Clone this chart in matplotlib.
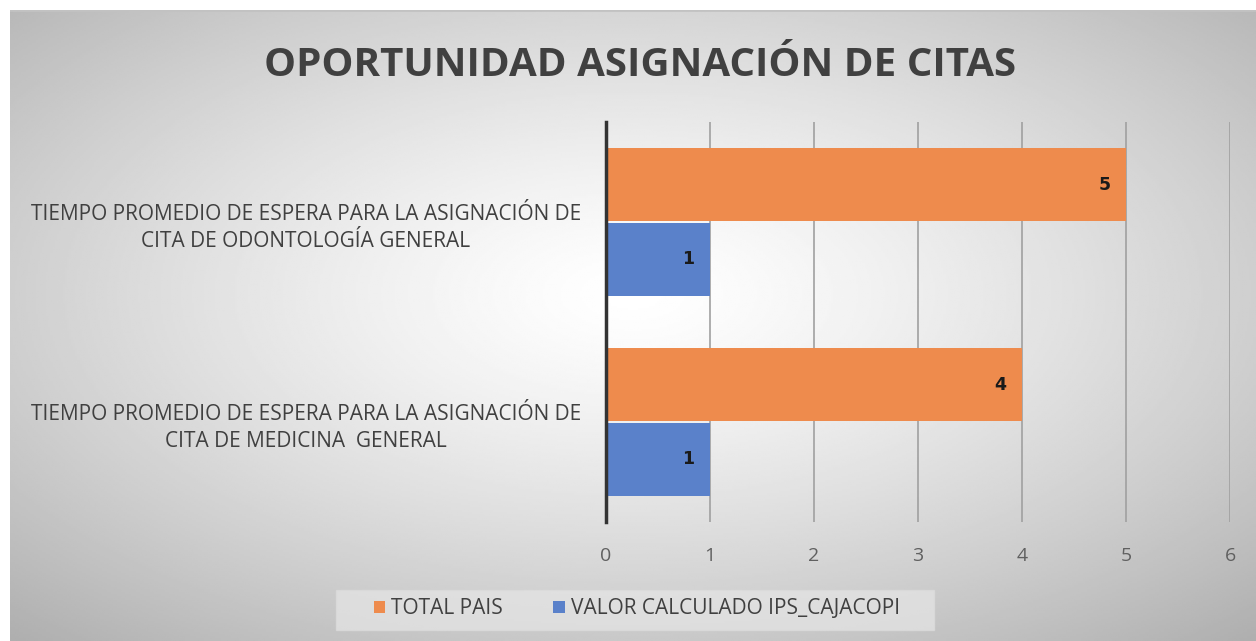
import numpy as np
import matplotlib.pyplot as plt
from matplotlib.patches import Rectangle

plt.switch_backend('agg')

plt.rcParams['font.family'] = ['Open Sans', 'DejaVu Sans']

# Datos
categorias = ['TIEMPO PROMEDIO DE ESPERA PARA LA ASIGNACIÓN DE\nCITA DE MEDICINA  GENERAL',
              'TIEMPO PROMEDIO DE ESPERA PARA LA ASIGNACIÓN DE\nCITA DE ODONTOLOGÍA GENERAL']
total_pais = [4, 5]
valor_ips = [1, 1]
series = ['TOTAL PAIS', 'VALOR CALCULADO IPS_CAJACOPI']
ticks_x = [0, 1, 2, 3, 4, 5, 6]

fig = plt.figure(figsize=(12.56, 6.41), dpi=100)

# fondo con degradado radial
fondo = fig.add_axes([10 / 1256, 0, 1 - 10 / 1256, 631 / 641])
yy, xx = np.mgrid[0:1:300j, 0:1:600j]
r = np.sqrt(((xx - 0.5) / 0.75) ** 2 + ((yy - 0.45) / 0.75) ** 2)
grad = np.clip(1 - 0.32 * r ** 1.3, 0, 1)
fondo.imshow(grad, cmap='gray', vmin=0, vmax=1, aspect='auto', extent=[0, 1, 0, 1], origin='upper')
fondo.axhline(1, color='#c2c2c2', lw=2)
fondo.set_axis_off()

ax = fig.add_axes([606 / 1256, (641 - 522) / 641, 624 / 1256, 400 / 641])
ax.patch.set_alpha(0)
y = np.arange(len(categorias))
h = 0.365
b1 = ax.barh(y + h / 2 + 0.005, total_pais, height=h, color='#EE8B4D', zorder=3)
b2 = ax.barh(y - h / 2 - 0.005, valor_ips, height=h, color='#5A81CA', zorder=3)
for barras, vals in ((b1, total_pais), (b2, valor_ips)):
    for rect, v in zip(barras, vals):
        ax.text(v - 0.15, rect.get_y() + rect.get_height() / 2, str(v),
                ha='right', va='center', fontsize=12.5, fontweight='bold', color='#1a1a1a', zorder=4,
                family=['DejaVu Sans'])

ax.set_xlim(0, 6)
ax.set_ylim(-0.5, 1.5)
ax.set_xticks(ticks_x)
ax.set_xticklabels([str(t) for t in ticks_x], fontsize=14, color='#606060')
ax.set_yticks(y)
ax.set_yticklabels(categorias, fontsize=15, color='#404040', ha='center', linespacing=1.4)
ax.tick_params(axis='y', length=0, pad=216)
ax.tick_params(axis='x', length=0, pad=18)
ax.grid(axis='x', color='#a0a0a0', lw=1.2, zorder=1)
for s in ax.spines.values():
    s.set_visible(False)
ax.axvline(0, color='#333333', lw=2.5, zorder=5, clip_on=False)

fig.text(0.51, 1 - 65 / 641, 'OPORTUNIDAD ASIGNACIÓN DE CITAS', ha='center', va='center',
         fontsize=29, fontweight='bold', color='#404040')

# caja de la leyenda
fig.patches.append(Rectangle((336 / 1256, 11 / 641), 598 / 1256, 40 / 641, transform=fig.transFigure,
                             facecolor='#e6e6e6', edgecolor='#dcdcdc', alpha=0.7, zorder=1))
leg = fig.legend([b1, b2], series, loc='center', bbox_to_anchor=(0.507, 1 - 609 / 641), ncol=2,
                 frameon=False, fontsize=15, handlelength=0.55, handleheight=0.55, handletextpad=0.3,
                 columnspacing=2.4, labelcolor='#404040')

plt.savefig('out.png', dpi=100)
